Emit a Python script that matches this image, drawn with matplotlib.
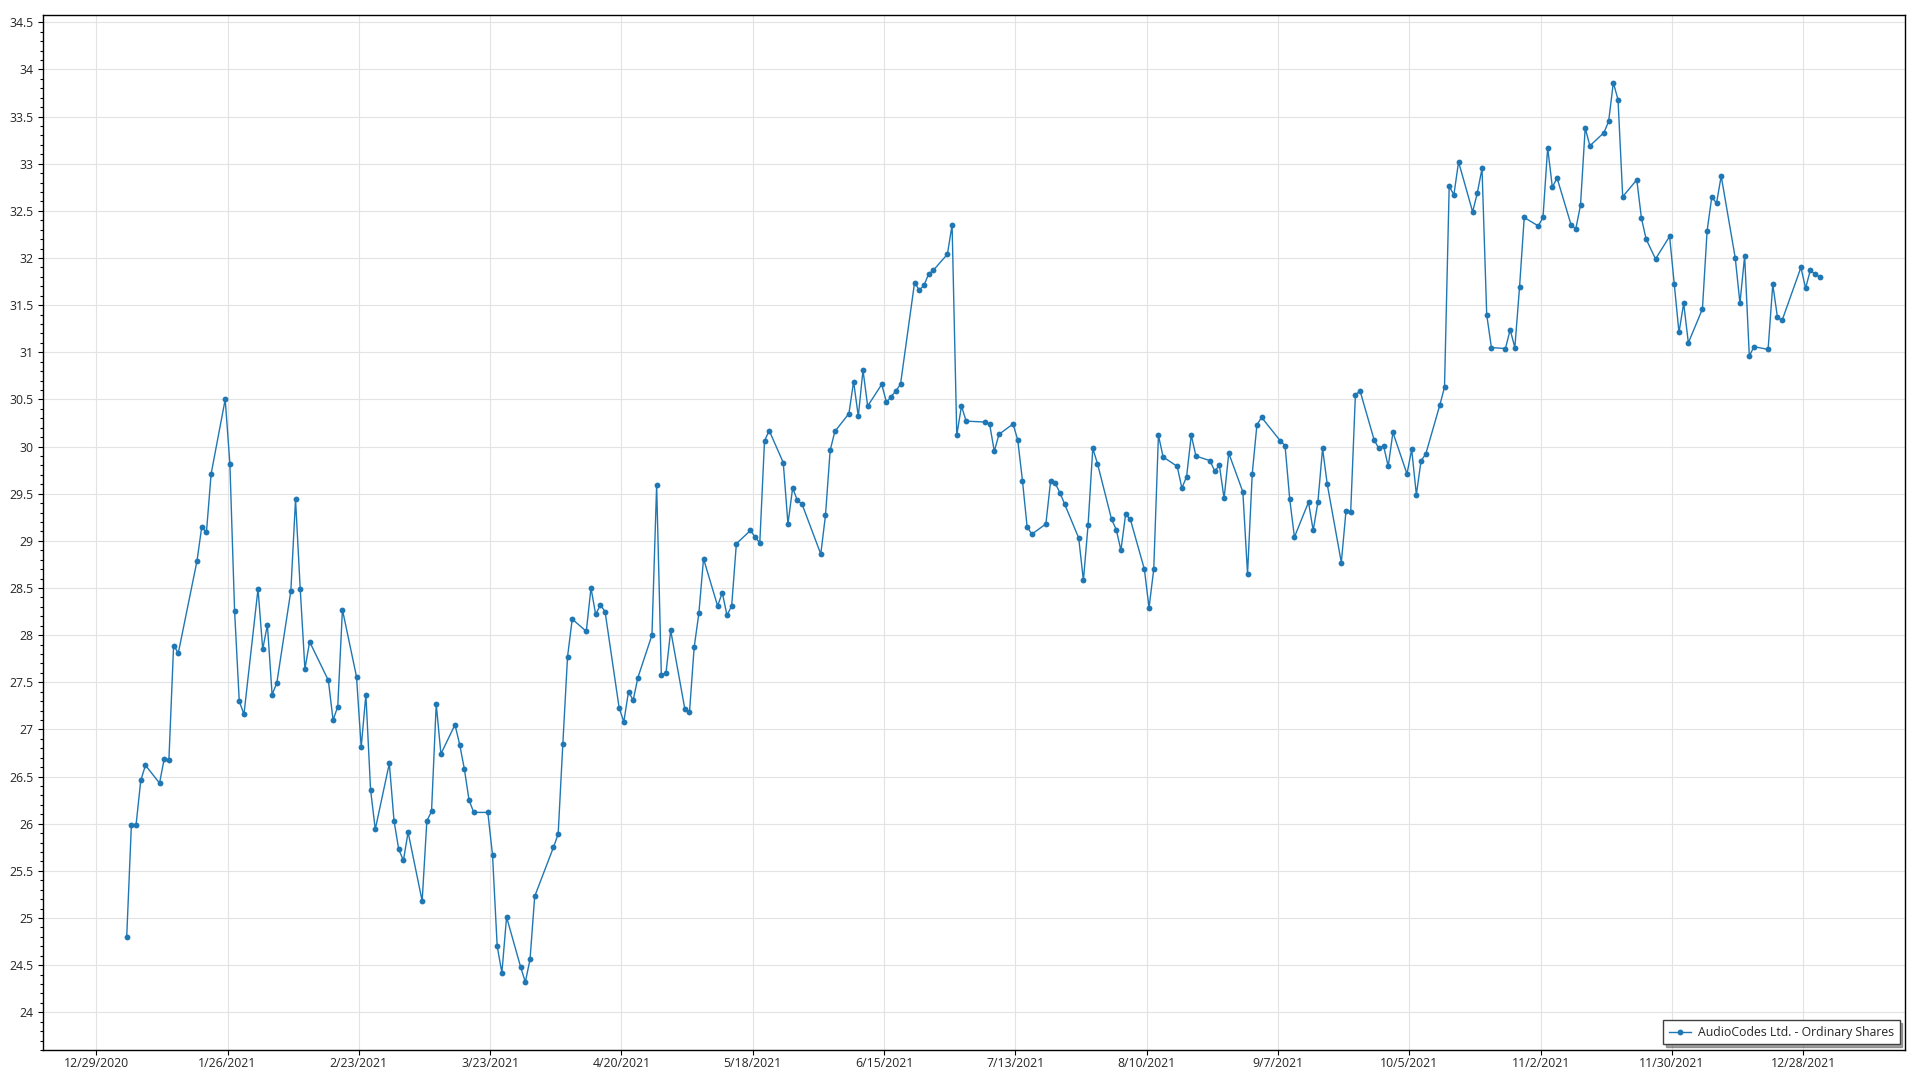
import datetime as dt
import matplotlib
matplotlib.use("Agg")
import matplotlib.pyplot as plt
import matplotlib.dates as mdates
from matplotlib.ticker import MultipleLocator, FuncFormatter

plt.rcParams['font.family'] = ['Open Sans', 'DejaVu Sans']

SERIES_NAME = "AudioCodes Ltd. - Ordinary Shares"

# trading days per month (2021)
days_jan = [4, 5, 6, 7, 8, 11, 12, 13, 14, 15, 19, 20, 21, 22, 25, 26, 27, 28, 29]
days_feb = [1, 2, 3, 4, 5, 8, 9, 10, 11, 12, 16, 17, 18, 19, 22, 23, 24, 25, 26]
days_mar = [1, 2, 3, 4, 5, 8, 9, 10, 11, 12, 15, 16, 17, 18, 19, 22, 23, 24, 25, 26, 29, 30, 31]
days_apr = [1, 5, 6, 7, 8, 9, 12, 13, 14, 15, 16, 19, 20, 21, 22, 23, 26, 27, 28, 29, 30]
days_may = [3, 4, 5, 6, 7, 10, 11, 12, 13, 14, 17, 18, 19, 20, 21, 24, 25, 26, 27, 28]
days_jun = [1, 2, 3, 4, 7, 8, 9, 10, 11, 14, 15, 16, 17, 18, 21, 22, 23, 24, 25, 28, 29, 30]
days_jul = [1, 2, 6, 7, 8, 9, 12, 13, 14, 15, 16, 19, 20, 21, 22, 23, 26, 27, 28, 29, 30]
days_aug = [2, 3, 4, 5, 6, 9, 10, 11, 12, 13, 16, 17, 18, 19, 20, 23, 24, 25, 26, 27, 30, 31]
days_sep = [1, 2, 3, 7, 8, 9, 10, 13, 14, 15, 16, 17, 20, 21, 22, 23, 24, 27, 28, 29, 30]
days_oct = [1, 4, 5, 6, 7, 8, 11, 12, 13, 14, 15, 18, 19, 20, 21, 22, 25, 26, 27, 28, 29]
days_nov = [1, 2, 3, 4, 5, 8, 9, 10, 11, 12, 15, 16, 17, 18, 19, 22, 23, 24, 26, 29, 30]
days_dec = [1, 2, 3, 6, 7, 8, 9, 10, 13, 14, 15, 16, 17, 20, 21, 22, 23, 27, 28, 29, 30, 31]

# closing prices per month
px_jan = [24.80, 25.99, 25.99, 26.46, 26.62, 26.43, 26.69, 26.68, 27.89, 27.81,
          28.79, 29.15, 29.09, 29.71, 30.50, 29.82, 28.26, 27.30, 27.16]
px_feb = [28.49, 27.85, 28.11, 27.37, 27.49, 28.47, 29.44, 28.49, 27.64, 27.93,
          27.52, 27.10, 27.24, 28.27, 27.56, 26.81, 27.37, 26.36, 25.94]
px_mar = [26.64, 26.03, 25.73, 25.61, 25.91, 25.18, 26.03, 26.13, 27.27, 26.74,
          27.05, 26.84, 26.58, 26.25, 26.12, 26.12, 25.67, 24.70, 24.42, 25.01,
          24.48, 24.32, 24.56]
px_apr = [25.23, 25.75, 25.89, 26.85, 27.77, 28.17, 28.04, 28.50, 28.22, 28.32,
          28.25, 27.23, 27.08, 27.40, 27.31, 27.55, 28.00, 29.59, 27.58, 27.60, 28.05]
px_may = [27.22, 27.18, 27.87, 28.23, 28.81, 28.31, 28.45, 28.21, 28.31, 28.97,
          29.11, 29.04, 28.98, 30.06, 30.17, 29.83, 29.18, 29.56, 29.43, 29.39]
px_jun = [28.86, 29.27, 29.96, 30.16, 30.35, 30.69, 30.32, 30.81, 30.43, 30.66,
          30.47, 30.53, 30.59, 30.66, 31.74, 31.66, 31.71, 31.83, 31.87, 32.04,
          32.35, 30.12]
px_jul = [30.43, 30.27, 30.26, 30.24, 29.95, 30.13, 30.24, 30.07, 29.64, 29.15,
          29.07, 29.18, 29.63, 29.61, 29.51, 29.39, 29.03, 28.58, 29.17, 29.98, 29.82]
px_aug = [29.23, 29.12, 28.90, 29.28, 29.23, 28.70, 28.29, 28.70, 30.12, 29.89,
          29.79, 29.56, 29.68, 30.12, 29.90, 29.85, 29.74, 29.80, 29.45, 29.93,
          29.52, 28.65]
px_sep = [29.71, 30.23, 30.31, 30.06, 30.01, 29.44, 29.04, 29.41, 29.11, 29.41,
          29.98, 29.60, 28.77, 29.32, 29.31, 30.55, 30.59, 30.07, 29.98, 30.01, 29.79]
px_oct = [30.15, 29.71, 29.97, 29.49, 29.85, 29.92, 30.44, 30.63, 32.76, 32.67,
          33.02, 32.49, 32.69, 32.95, 31.40, 31.05, 31.04, 31.24, 31.05, 31.69, 32.43]
px_nov = [32.34, 32.43, 33.17, 32.75, 32.85, 32.35, 32.31, 32.56, 33.38, 33.19,
          33.33, 33.45, 33.86, 33.68, 32.65, 32.83, 32.42, 32.20, 31.99, 32.23, 31.72]
px_dec = [31.21, 31.52, 31.10, 31.46, 32.29, 32.65, 32.58, 32.87, 32.00, 31.52,
          32.02, 30.96, 31.06, 31.03, 31.72, 31.37, 31.34, 31.90, 31.68, 31.87,
          31.83, 31.80]

month_days = [days_jan, days_feb, days_mar, days_apr, days_may, days_jun,
              days_jul, days_aug, days_sep, days_oct, days_nov, days_dec]
month_px = [px_jan, px_feb, px_mar, px_apr, px_may, px_jun,
            px_jul, px_aug, px_sep, px_oct, px_nov, px_dec]

dates, prices = [], []
for m, (dl, pl) in enumerate(zip(month_days, month_px), start=1):
    for d, p in zip(dl, pl):
        dates.append(dt.datetime(2021, m, d, 12))
        prices.append(p)

tick_start = dt.datetime(2020, 12, 29)
tick_dates = [tick_start + dt.timedelta(days=28 * i) for i in range(14)]

BLUE = '#1f77b4'
TEXT = '#262626'
FS = 8.8

fig = plt.figure(figsize=(19.2, 10.8), dpi=100)
ax = fig.add_axes([0.0222, 0.0278, 0.9700, 0.9580])

ax.plot(dates, prices, color=BLUE, lw=1.0, marker='o', ms=4.2,
        markeredgewidth=0, label=SERIES_NAME, zorder=3)

ax.set_xlim(tick_start - dt.timedelta(days=11.43), tick_start + dt.timedelta(days=385.7))
ax.set_ylim(23.60, 34.574)

ax.set_xticks(tick_dates)
ax.xaxis.set_major_formatter(FuncFormatter(
    lambda x, pos: (lambda d: f"{d.month}/{d.day}/{d.year}")(mdates.num2date(x))))
ax.yaxis.set_major_locator(MultipleLocator(0.5))
ax.yaxis.set_minor_locator(MultipleLocator(0.1))
ax.yaxis.set_major_formatter(FuncFormatter(lambda v, pos: f"{v:g}"))

ax.grid(True, which='major', color='#e3e3e3', lw=0.8, zorder=0)
ax.set_axisbelow(True)
for s in ax.spines.values():
    s.set_color('black')
    s.set_linewidth(1.0)

ax.tick_params(axis='both', which='major', direction='out', length=3.6, width=0.8,
               colors='black', labelcolor=TEXT, labelsize=FS, pad=3)
ax.tick_params(axis='y', which='minor', direction='out', length=2.2, width=0.8, colors='black')
ax.tick_params(axis='x', which='major', pad=1.5)

leg = ax.legend(loc='lower right', fontsize=FS, frameon=True, fancybox=False,
                shadow=True, borderaxespad=0.45, handlelength=1.8,
                borderpad=0.45, handletextpad=0.6)
leg.get_frame().set_edgecolor('#404040')
leg.get_frame().set_linewidth(1.0)
for t in leg.get_texts():
    t.set_color(TEXT)

fig.savefig('out.png', dpi=100)
